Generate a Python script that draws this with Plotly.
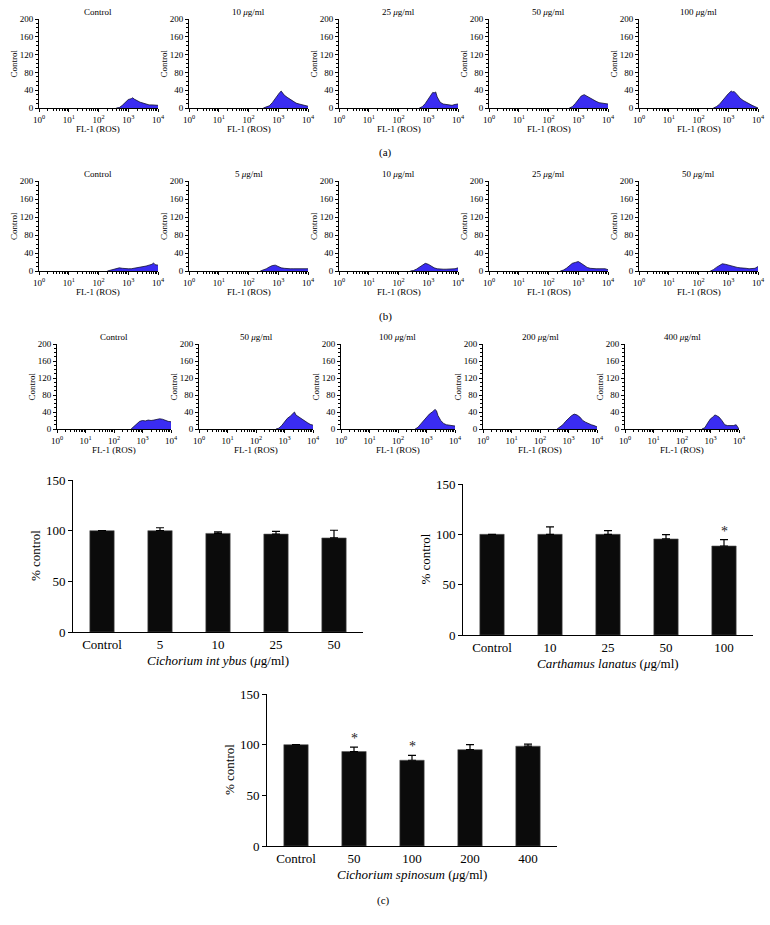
import plotly.graph_objects as go

# ---------------- data ----------------
# Histogram panels: FL-1 (ROS) positions given as log10 decades, counts
row_a_titles = ["Control", "10 <i>μ</i>g/ml", "25 <i>μ</i>g/ml", "50 <i>μ</i>g/ml", "100 <i>μ</i>g/ml"]
row_a_logfl = [
    [2.6, 2.7, 2.8, 2.9, 3.0, 3.1, 3.15, 3.2, 3.3, 3.4, 3.5, 3.6, 3.7, 3.8, 3.9, 4.0],
    [2.5, 2.6, 2.7, 2.8, 2.9, 3.0, 3.05, 3.1, 3.15, 3.2, 3.3, 3.4, 3.5, 3.6, 3.7, 3.8, 3.9, 4.0],
    [2.7, 2.8, 2.9, 3.0, 3.1, 3.15, 3.2, 3.25, 3.3, 3.4, 3.5, 3.6, 3.7, 3.8, 3.9, 4.0],
    [2.7, 2.8, 2.9, 3.0, 3.1, 3.2, 3.3, 3.4, 3.5, 3.6, 3.7, 3.8, 3.9, 4.0],
    [2.5, 2.6, 2.7, 2.8, 2.9, 3.0, 3.05, 3.1, 3.15, 3.2, 3.3, 3.4, 3.5, 3.6, 3.7, 3.8, 3.9, 4.0],
]
row_a_counts = [
    [0, 1, 6, 13, 19, 21, 23, 20, 16, 13, 11, 9, 7, 7, 6, 6],
    [0, 2, 5, 12, 22, 31, 35, 38, 33, 29, 24, 19, 15, 11, 9, 7, 6, 4],
    [0, 3, 10, 20, 30, 35, 34, 36, 25, 13, 9, 8, 7, 6, 8, 9],
    [0, 3, 10, 19, 27, 30, 26, 22, 18, 15, 12, 11, 10, 9],
    [0, 3, 8, 15, 24, 32, 35, 38, 36, 37, 30, 22, 17, 13, 9, 6, 3, 0],
]

row_b_titles = ["Control", "5 <i>μ</i>g/ml", "10 <i>μ</i>g/ml", "25 <i>μ</i>g/ml", "50 <i>μ</i>g/ml"]
row_b_logfl = [
    [2.3, 2.4, 2.5, 2.6, 2.7, 2.8, 2.9, 3.0, 3.1, 3.2, 3.3, 3.4, 3.5, 3.6, 3.7, 3.8, 3.85, 3.9, 4.0],
    [2.4, 2.5, 2.6, 2.7, 2.8, 2.9, 3.0, 3.1, 3.2, 3.3, 3.4, 3.5, 3.6, 3.7, 3.8, 3.9, 4.0],
    [2.4, 2.5, 2.6, 2.7, 2.8, 2.9, 3.0, 3.1, 3.2, 3.3, 3.4, 3.5, 3.6, 3.7, 3.8, 3.9, 4.0],
    [2.4, 2.5, 2.6, 2.7, 2.8, 2.9, 3.0, 3.1, 3.2, 3.3, 3.4, 3.5, 3.6, 3.7, 3.8, 3.9, 4.0],
    [2.4, 2.5, 2.6, 2.7, 2.8, 2.9, 3.0, 3.1, 3.2, 3.3, 3.4, 3.5, 3.6, 3.7, 3.8, 3.9, 4.0],
]
row_b_counts = [
    [0, 2, 4, 6, 7, 6, 5, 5, 5, 6, 7, 8, 10, 11, 13, 15, 18, 14, 13],
    [0, 2, 5, 9, 12, 13, 10, 7, 6, 5, 5, 5, 5, 5, 4, 5, 5],
    [0, 1, 4, 9, 14, 17, 15, 11, 7, 5, 4, 4, 4, 4, 4, 5, 7],
    [0, 2, 6, 12, 17, 19, 21, 17, 12, 8, 6, 5, 5, 5, 5, 5, 3],
    [0, 3, 8, 13, 16, 15, 13, 11, 9, 8, 7, 7, 6, 5, 5, 6, 10],
]

row_c_titles = ["Control", "50 <i>μ</i>g/ml", "100 <i>μ</i>g/ml", "200 <i>μ</i>g/ml", "400 <i>μ</i>g/ml"]
row_c_logfl = [
    [2.6, 2.7, 2.8, 2.9, 3.0, 3.1, 3.2, 3.3, 3.4, 3.5, 3.6, 3.7, 3.8, 3.9, 4.0],
    [2.7, 2.8, 2.9, 3.0, 3.1, 3.2, 3.3, 3.35, 3.4, 3.5, 3.6, 3.7, 3.8, 3.9, 4.0],
    [2.6, 2.7, 2.8, 2.9, 3.0, 3.1, 3.2, 3.3, 3.35, 3.4, 3.5, 3.6, 3.7, 3.8, 3.9, 4.0],
    [2.6, 2.7, 2.8, 2.9, 3.0, 3.1, 3.2, 3.3, 3.4, 3.5, 3.6, 3.7, 3.8, 3.9, 4.0],
    [2.7, 2.8, 2.9, 3.0, 3.1, 3.15, 3.2, 3.3, 3.4, 3.5, 3.6, 3.7, 3.8, 3.9, 3.95, 4.0],
]
row_c_counts = [
    [0, 6, 14, 18, 20, 19, 21, 20, 21, 22, 24, 23, 20, 18, 17],
    [0, 2, 8, 17, 25, 30, 36, 40, 33, 28, 25, 19, 15, 11, 9],
    [0, 4, 12, 20, 28, 35, 40, 46, 43, 32, 20, 13, 10, 9, 7, 7],
    [0, 4, 10, 18, 25, 31, 35, 33, 28, 20, 16, 12, 10, 8, 5],
    [0, 3, 14, 24, 29, 33, 32, 28, 20, 10, 8, 8, 8, 10, 6, 0],
]

hist_yticks = [0, 40, 80, 120, 160, 200]
hist_xticks = [1, 10, 100, 1000, 10000]
hist_xticktext = ["10<sup>0</sup>", "10<sup>1</sup>", "10<sup>2</sup>", "10<sup>3</sup>", "10<sup>4</sup>"]

# Bar charts (% control)
ci_labels = ["Control", "5", "10", "25", "50"]
ci_mean = [100, 100, 97.3, 96.6, 92.8]
ci_err = [0, 2.9, 1.6, 2.7, 7.6]
ci_sig = [False, False, False, False, False]

cl_labels = ["Control", "10", "25", "50", "100"]
cl_mean = [100, 100, 100, 95.4, 88.4]
cl_err = [0, 7.5, 3.6, 4.3, 6.3]
cl_sig = [False, False, False, False, True]

cs_labels = ["Control", "50", "100", "200", "400"]
cs_mean = [100, 93.2, 84.6, 95.1, 98.5]
cs_err = [0, 4.3, 4.9, 5.0, 2.0]
cs_sig = [False, True, True, False, False]

bar_yticks = [0, 50, 100, 150]

# ---------------- layout helpers ----------------
W, H = 770, 925
FONT = "Liberation Serif"


def fx(x):
    return x / W


def fy(y):
    return 1 - y / H


fig = go.Figure()
layout = {}
annotations = []
axis_n = [0]


def new_axes():
    axis_n[0] += 1
    n = axis_n[0]
    return n, ("x" if n == 1 else f"x{n}"), ("y" if n == 1 else f"y{n}")


def hist_panel(left, width, top, bottom, title, logfl, counts):
    n, xr, yr = new_axes()
    fig.add_trace(go.Scatter(
        x=[10 ** v for v in logfl], y=counts, xaxis=xr, yaxis=yr,
        mode="lines", fill="tozeroy", fillcolor="#3a2cf2",
        line=dict(color="#101030", width=0.8), showlegend=False, hoverinfo="skip",
        cliponaxis=False))
    xk = "xaxis" if n == 1 else f"xaxis{n}"
    yk = "yaxis" if n == 1 else f"yaxis{n}"
    layout[xk] = dict(
        domain=[fx(left), fx(left + width)], anchor=yr, type="log", range=[0, 4.0],
        tickmode="array", tickvals=hist_xticks, ticktext=hist_xticktext,
        ticks="outside", ticklen=3, tickwidth=1, tickcolor="black",
        ticklabeloverflow="allow",
        minor=dict(ticks="outside", ticklen=2, tickwidth=0.6, tickcolor="black", dtick="D1"),
        showline=True, linecolor="black", linewidth=1, showgrid=False, zeroline=False,
        tickfont=dict(family=FONT, size=9, color="black"), fixedrange=True)
    layout[yk] = dict(
        domain=[fy(bottom), fy(top)], anchor=xr, range=[0, 200],
        tickmode="array", tickvals=hist_yticks,
        ticks="outside", ticklen=3, tickwidth=1, tickcolor="black",
        minor=dict(ticks="outside", ticklen=2, tickwidth=0.6, tickcolor="black", dtick=10),
        showline=True, linecolor="black", linewidth=1, showgrid=False, zeroline=False,
        tickfont=dict(family=FONT, size=9, color="black"), fixedrange=True)
    cx = left + width / 2
    annotations.append(dict(text=title, x=fx(cx), y=fy(top - 7), xref="paper", yref="paper",
                            showarrow=False, xanchor="center", yanchor="middle",
                            font=dict(family=FONT, size=9, color="black")))
    annotations.append(dict(text="Control", x=fx(left - 25), y=fy((top + bottom) / 2),
                            xref="paper", yref="paper", showarrow=False, textangle=-90,
                            xanchor="center", yanchor="middle",
                            font=dict(family=FONT, size=9, color="black")))
    annotations.append(dict(text="FL-1 (ROS)", x=fx(cx), y=fy(bottom + 21), xref="paper",
                            yref="paper", showarrow=False, xanchor="center", yanchor="middle",
                            font=dict(family=FONT, size=9, color="black")))


def bar_panel(left, right, top, bottom, labels, means, errs, sig, title):
    n, xr, yr = new_axes()
    idx = list(range(len(labels)))
    fig.add_trace(go.Bar(
        x=idx, y=means, xaxis=xr, yaxis=yr, width=0.42,
        marker=dict(color="#0b0b0b", line=dict(color="#555555", width=0.6)),
        error_y=dict(type="data", array=errs, arrayminus=[0] * len(errs), symmetric=False,
                     color="black", thickness=1.2, width=4),
        showlegend=False, hoverinfo="skip"))
    xk = "xaxis" if n == 1 else f"xaxis{n}"
    yk = "yaxis" if n == 1 else f"yaxis{n}"
    layout[xk] = dict(
        domain=[fx(left), fx(right)], anchor=yr, range=[-0.5, len(labels) - 0.5],
        tickmode="array", tickvals=idx, ticktext=labels,
        ticks="", showline=True, linecolor="black", linewidth=1, showgrid=False,
        zeroline=False, tickfont=dict(family=FONT, size=13, color="black"), fixedrange=True)
    layout[yk] = dict(
        domain=[fy(bottom), fy(top)], anchor=xr, range=[0, 150],
        tickmode="array", tickvals=bar_yticks, ticks="outside", ticklen=4, tickwidth=1,
        tickcolor="black", showline=True, linecolor="black", linewidth=1, showgrid=False,
        zeroline=False, tickfont=dict(family=FONT, size=13, color="black"), fixedrange=True)
    for i, m, e, s in zip(idx, means, errs, sig):
        if s:
            annotations.append(dict(text="*", x=i, y=m + e, xref=xr, yref=yr,
                                    showarrow=False, xanchor="center", yanchor="bottom",
                                    yshift=-1, font=dict(family=FONT, size=14, color="#222222")))
    annotations.append(dict(text="% control", x=fx(left - 38), y=fy((top + bottom) / 2),
                            xref="paper", yref="paper", showarrow=False, textangle=-90,
                            xanchor="center", yanchor="middle",
                            font=dict(family=FONT, size=13, color="black")))
    annotations.append(dict(text=title, x=fx((left + right) / 2), y=fy(bottom + 28),
                            xref="paper", yref="paper", showarrow=False,
                            xanchor="center", yanchor="middle",
                            font=dict(family=FONT, size=13, color="black")))


# Row (a)
for i in range(5):
    hist_panel(39 + 150 * i, 119, 19, 108, row_a_titles[i], row_a_logfl[i], row_a_counts[i])
# Row (b)
for i in range(5):
    hist_panel(39 + 150 * i, 119, 181, 271, row_b_titles[i], row_b_logfl[i], row_b_counts[i])
# Row (c) histograms
for i in range(5):
    hist_panel(57 + 142 * i, 114, 344, 429, row_c_titles[i], row_c_logfl[i], row_c_counts[i])

bar_panel(73, 363, 480, 632, ci_labels, ci_mean, ci_err, ci_sig,
          "<i>Cichorium int ybus</i> (<i>μ</i>g/ml)")
bar_panel(463, 753, 484, 635, cl_labels, cl_mean, cl_err, cl_sig,
          "<i>Carthamus lanatus</i> (<i>μ</i>g/ml)")
bar_panel(267, 557, 694, 846, cs_labels, cs_mean, cs_err, cs_sig,
          "<i>Cichorium spinosum</i> (<i>μ</i>g/ml)")

for txt, x, y in [("(a)", 385, 153), ("(b)", 385, 316), ("(c)", 383, 900)]:
    annotations.append(dict(text=txt, x=fx(x), y=fy(y), xref="paper", yref="paper",
                            showarrow=False, xanchor="center", yanchor="middle",
                            font=dict(family=FONT, size=11, color="black")))

fig.update_layout(**layout)
fig.update_layout(
    width=W, height=H, margin=dict(l=0, r=0, t=0, b=0, pad=0, autoexpand=False),
    paper_bgcolor="white", plot_bgcolor="white",
    annotations=annotations,
    font=dict(family=FONT, color="black"))

fig.write_html("out.html", config={"displayModeBar": False},
               post_script="document.body.style.margin='0';document.body.style.overflow='hidden';")
